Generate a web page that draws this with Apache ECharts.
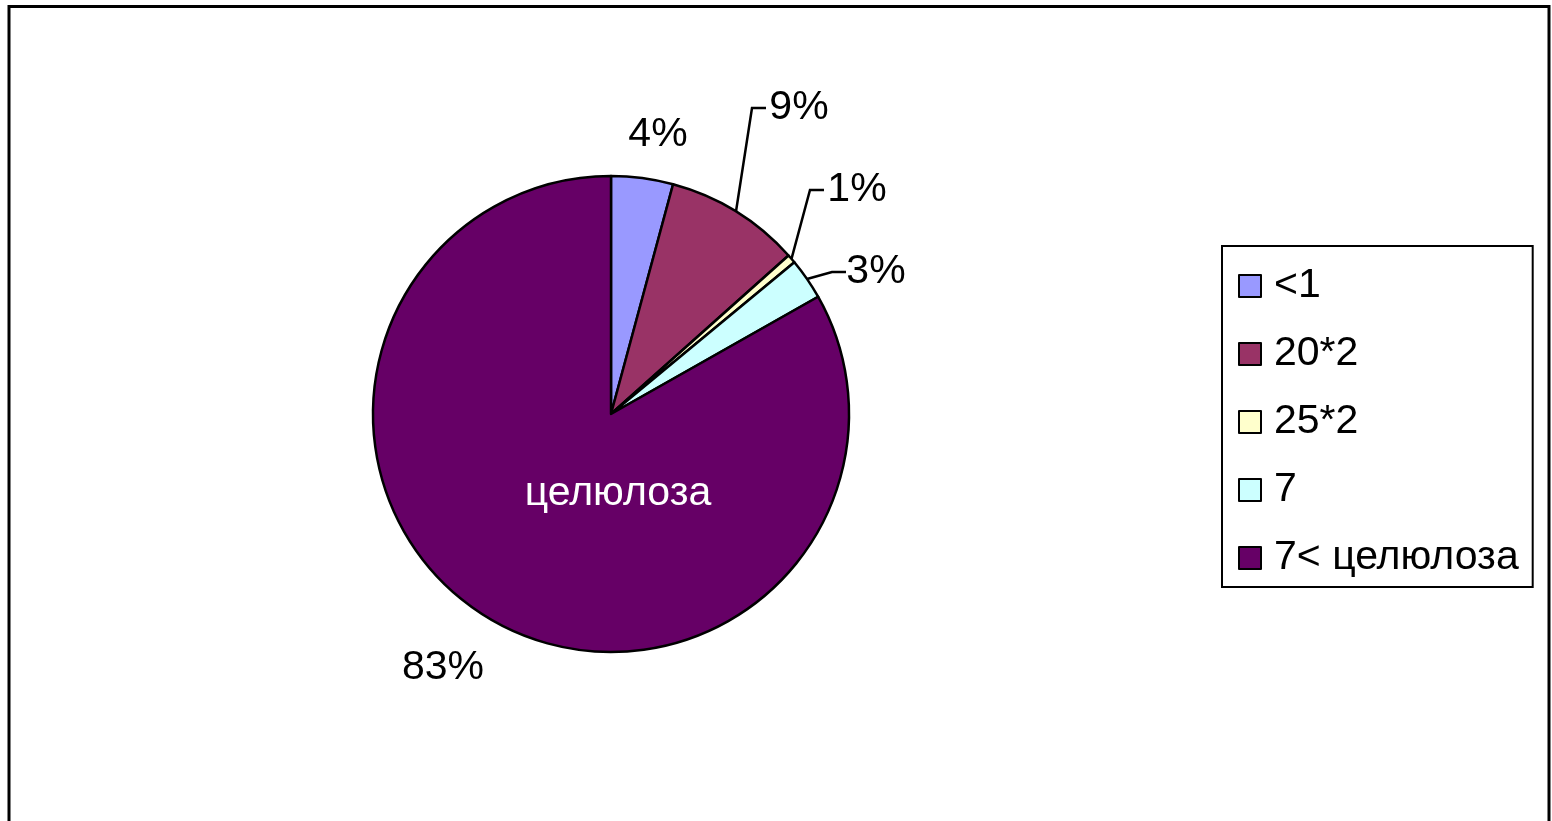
<!DOCTYPE html>
<html>
<head>
<meta charset="utf-8">
<script src="https://cdn.jsdelivr.net/npm/echarts@6/dist/echarts.min.js"></script>
<style>
html,body{margin:0;padding:0;background:#fff;}
#chart{width:1552px;height:821px;}
</style>
</head>
<body>
<div id="chart"></div>
<script>
const categories = ['<1', '20*2', '25*2', '7', '7< целюлоза'];
const values = [4.2, 9.2, 0.6, 2.8, 83.2];
const colors = ['#9999FF', '#993366', '#FFFFCC', '#CCFFFF', '#660066'];
const labelTexts = ['4%', '9%', '1%', '3%', '83%'];
const innerText = 'целюлоза';

// label layout config (centre of label text, elbow of leader line or null)
const labelCenters = [[658, 135], [799, 108], [857, 190], [876, 272], [443, 668]];
const labelElbows = [null, [752, 108], [810, 190], [832, 272], null];

const FONT = '"Liberation Sans", Arial, sans-serif';
const FS = 41;
const chart = echarts.init(document.getElementById('chart'));

const option = {
  animation: false,
  backgroundColor: '#fff',
  graphic: [
    {
      type: 'rect', z: -1,
      shape: { x: 9, y: 6.5, width: 1540, height: 900 },
      style: { fill: 'none', stroke: '#000', lineWidth: 3 }
    },
    {
      type: 'text', z: 10,
      x: 618, y: 494,
      style: { text: innerText, fill: '#fff', font: FS + 'px ' + FONT, align: 'center', verticalAlign: 'middle' }
    }
  ],
  legend: {
    orient: 'vertical',
    left: 1222,
    top: 246,
    padding: [19, 14, 8, 16],
    itemGap: 26,
    itemWidth: 22,
    itemHeight: 22,
    borderColor: '#000',
    borderWidth: 2,
    icon: 'rect',
    itemStyle: { borderColor: '#000', borderWidth: 2 },
    textStyle: { fontSize: FS, fontFamily: FONT, color: '#000', lineHeight: 42, padding: [0, 0, 0, 8] },
    data: categories
  },
  series: [{
    type: 'pie',
    center: [611, 414],
    radius: 238,
    startAngle: 90,
    clockwise: true,
    avoidLabelOverlap: false,
    itemStyle: { borderColor: '#000', borderWidth: 2.5 },
    emphasis: { disabled: true },
    label: {
      show: true,
      position: 'outside',
      fontSize: FS,
      fontFamily: FONT,
      color: '#000',
      formatter: p => labelTexts[p.dataIndex]
    },
    labelLine: { show: true, lineStyle: { color: '#000', width: 2.5 } },
    labelLayout: function (params) {
      const i = params.dataIndex;
      const c = labelCenters[i];
      const res = { x: c[0], y: c[1], align: 'center', verticalAlign: 'middle' };
      const e = labelElbows[i];
      if (e && params.labelLinePoints) {
        const start = params.labelLinePoints[0];
        res.labelLinePoints = [start, e, [e[0] + 14, e[1]]];
      }
      return res;
    },
    data: categories.map((name, i) => ({
      name: name,
      value: values[i],
      itemStyle: { color: colors[i] },
      labelLine: { show: labelElbows[i] !== null }
    }))
  }]
};
chart.setOption(option);
</script>
</body>
</html>
